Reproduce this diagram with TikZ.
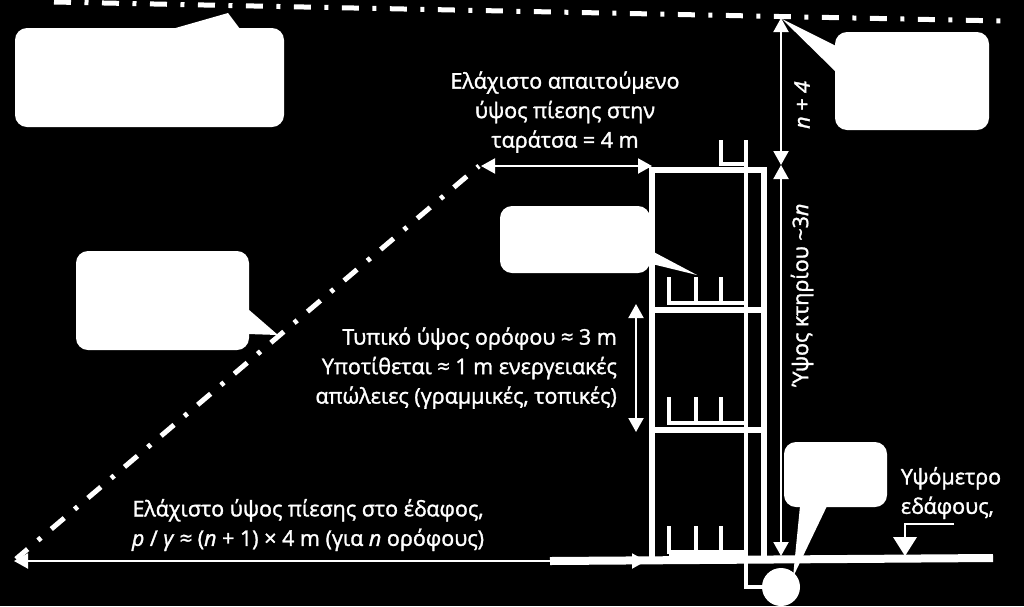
\documentclass[tikz,border=0pt]{standalone}
\usepackage{fontspec}
\setmainfont{Open Sans}
\newfontfamily\labelfont{Open Sans}[FakeBold=1.5]
\usetikzlibrary{calc,arrows.meta}
\tikzset{>={Triangle[length=14pt,width=15pt]}}
\tikzset{
  wall/.style={white,line width=6pt},
  pipe/.style={white,line width=4pt},
  dim/.style={white,line width=2pt,<->},
  grade/.style={white,line width=5pt,dash pattern=on 17pt off 13.5pt on 4pt off 13.5pt},
  bubble/.style={fill=white,rounded corners=12pt,inner sep=0pt},
  tail/.style={fill=white},
  label/.style={white,font=\labelfont\fontsize{21.5}{29.5}\selectfont,align=center,inner sep=0pt},
}
\begin{document}
\begin{tikzpicture}[x=1pt,y=-1pt]
    \fill[black] (0,0) rectangle (1024,606);
    \useasboundingbox (0,0) rectangle (1024,606);
    % hydraulic grade lines
    \draw[grade] (54,2) -- (1004,21);
    \draw[grade,dash phase=32pt] (479,166) -- (16,559);
    % building
    \draw[wall] (652,558) -- (652,170) -- (764,170) -- (764,558);
    \draw[wall] (652,310) -- (764,310);
    \draw[wall] (652,430) -- (764,430);
    \draw[white,line width=8pt] (550,561) -- (993,558);
    % riser and fixtures
    \draw[pipe] (746,140) -- (746,587) -- (770,587);
    \draw[pipe] (721,140) -- (721,164) -- (746,164);
    \foreach \y in {303,423,552} {
      \draw[pipe] (669,\y-26) -- (669,\y) -- (746,\y);
      \draw[pipe] (696,\y-26) -- (696,\y);
      \draw[pipe] (721,\y-26) -- (721,\y);
    }
    \draw[pipe] (669,555) -- (746,555);
    \node[circle,fill=white,minimum size=38pt,inner sep=0pt] (pump) at (781,587) {};
    % dimensions
    \coordinate (roofline) at (781,18);
    \coordinate (roofpipe) at (781,165);
    \coordinate (ground) at (781,556);
    \coordinate (gradetop) at (481,166);
    \coordinate (wallleft) at (652,166);
    \coordinate (floora) at (636,304);
    \coordinate (floorb) at (636,432);
    \coordinate (gradelow) at (14,561);
    \coordinate (wallfoot) at (646,561);
    \draw[dim] (roofline) -- (roofpipe);
    \draw[dim] (roofpipe) -- (ground);
    \draw[dim] (gradetop) -- (wallleft);
    \draw[dim] (floora) -- (floorb);
    \draw[dim] (gradelow) -- (wallfoot);
    % ground level mark
    \fill[white] (893,537) -- (917,537) -- (905,556) -- cycle;
    \draw[white,line width=2pt] (954,524) -- (905,524) -- (905,538);
    % callouts
    \node[bubble,minimum width=269pt,minimum height=99pt] (boxroof) at (149.5,77.5) {};
    \fill[tail] (172,29) -- (228,13) -- (240,29) -- cycle;
    \node[bubble,minimum width=154pt,minimum height=98pt] (boxline) at (912,81) {};
    \fill[tail] (836,46) -- (782,19) -- (836,72) -- cycle;
    \node[bubble,minimum width=150pt,minimum height=67pt] (boxfloor) at (575,239.5) {};
    \fill[tail] (648,249) -- (697,275) -- (648,263) -- cycle;
    \node[bubble,minimum width=173pt,minimum height=99pt] (boxgrade) at (162.5,300.5) {};
    \fill[tail] (248,309) -- (278,335) -- (248,334) -- cycle;
    \node[bubble,minimum width=103pt,minimum height=65pt] (boxpump) at (835.5,474.5) {};
    \fill[tail] (800,506) -- (827,506) -- (793,577) -- cycle;
    % labels
    \node[label] (roofhead) at (565,112) {Ελάχιστο απαιτούμενο\\ύψος πίεσης στην\\ταράτσα = 4 m};
    \node[label,align=right,anchor=east] (floorhead) at (617,368) {Τυπικό ύψος ορόφου ≈ 3 m\\Υποτίθεται ≈ 1 m ενεργειακές\\απώλειες (γραμμικές, τοπικές)};
    \node[label] (groundhead) at (308,525) {Ελάχιστο ύψος πίεσης στο έδαφος,\\\textit{p} / \textit{γ} ≈ (\textit{n} + 1) × 4 m (για \textit{n} ορόφους)};
    \node[label,align=left] (levelname) at (951,493) {Υψόμετρο\\εδάφους,};
    \node[label,rotate=90] (heightname) at (802,295) {Ύψος κτηρίου \textasciitilde3\textit{n}};
    \node[label,rotate=90] (nfour) at (802,105) {\textit{n + 4}};
  \end{tikzpicture}
\end{document}
